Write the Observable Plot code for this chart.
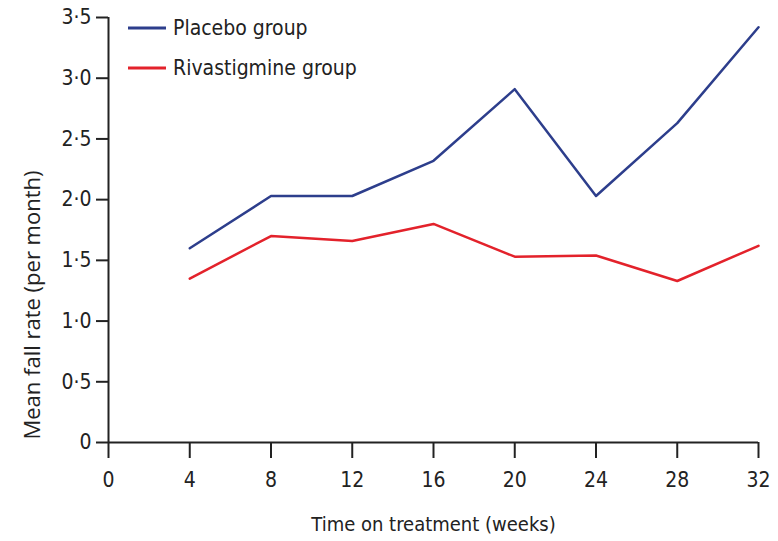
<!DOCTYPE html>
<html>
<head>
<meta charset="utf-8">
<script src="https://cdn.jsdelivr.net/npm/d3@7"></script>
<script src="https://cdn.jsdelivr.net/npm/@observablehq/plot@0.6"></script>
<style>
  html, body { margin: 0; padding: 0; background: #fff; }
  #wrap { position: relative; width: 778px; height: 541px; }
  #legend { position: absolute; left: 128px; top: 8px; font-family: "DejaVu Sans Condensed", "Liberation Sans Narrow", sans-serif; font-stretch: condensed; font-size: 21px; color: #222; }
  #legend .row { display: flex; align-items: center; height: 40px; }
  #legend svg { margin-right: 7px; }
</style>
</head>
<body>
<div id="wrap"><div id="legend"></div></div>
<script>
const weeks = [4, 8, 12, 16, 20, 24, 28, 32];
const placebo = [1.60, 2.03, 2.03, 2.32, 2.91, 2.03, 2.63, 3.42];
const rivastigmine = [1.35, 1.70, 1.66, 1.80, 1.53, 1.54, 1.33, 1.62];
const seriesNames = ["Placebo group", "Rivastigmine group"];
const seriesColors = ["#2d3e8c", "#e3222b"];
const xTicks = [0, 4, 8, 12, 16, 20, 24, 28, 32];
const yTicks = [0, 0.5, 1, 1.5, 2, 2.5, 3, 3.5];

const rows = [
  ...weeks.map((w, i) => ({week: w, rate: placebo[i], group: seriesNames[0]})),
  ...weeks.map((w, i) => ({week: w, rate: rivastigmine[i], group: seriesNames[1]}))
];

const fmtY = d => d === 0 ? "0" : d.toFixed(1).replace(".", "\u00B7");

const chart = Plot.plot({
  width: 778,
  height: 541,
  marginLeft: 108,
  marginRight: 20,
  marginTop: 17,
  marginBottom: 99,
  style: {fontFamily: "'DejaVu Sans Condensed', 'Liberation Sans Narrow', sans-serif", fontSize: "21px", color: "#222", background: "#fff"},
  x: {domain: [0, 32], ticks: xTicks, label: null},
  y: {domain: [0, 3.5], ticks: yTicks, label: null},
  color: {domain: seriesNames, range: seriesColors},
  marks: [
    Plot.axisX({ticks: xTicks, tickSize: 16, tickPadding: 14, stroke: "#222", strokeWidth: 2, label: null, fontSize: 21}),
    Plot.axisY({ticks: yTicks, tickSize: 12, tickPadding: 5, stroke: "#222", strokeWidth: 2, tickFormat: fmtY, label: null, fontSize: 21}),
    Plot.ruleX([0], {stroke: "#222", strokeWidth: 2}),
    Plot.ruleY([0], {stroke: "#222", strokeWidth: 2}),
    Plot.line(rows, {x: "week", y: "rate", stroke: "group", strokeWidth: 2.5}),
    Plot.text(["Time on treatment (weeks)"], {frameAnchor: "bottom", dy: 88, fontSize: 20, fill: "#222", text: d => d}),
    Plot.text(["Mean fall rate (per month)"], {frameAnchor: "left", textAnchor: "middle", dx: -76, dy: 75, rotate: -90, fontSize: 22, fill: "#222", fontFamily: "'Open Sans', sans-serif", text: d => d})
  ]
});
const wrap = document.getElementById("wrap");
wrap.insertBefore(chart, wrap.firstChild);

const legend = document.getElementById("legend");
seriesNames.forEach((name, i) => {
  const row = document.createElement("div");
  row.className = "row";
  row.innerHTML = `<svg width="38" height="6"><line x1="0" x2="38" y1="3" y2="3" stroke="${seriesColors[i]}" stroke-width="3"/></svg><span>${name}</span>`;
  legend.appendChild(row);
});
</script>
</body>
</html>
